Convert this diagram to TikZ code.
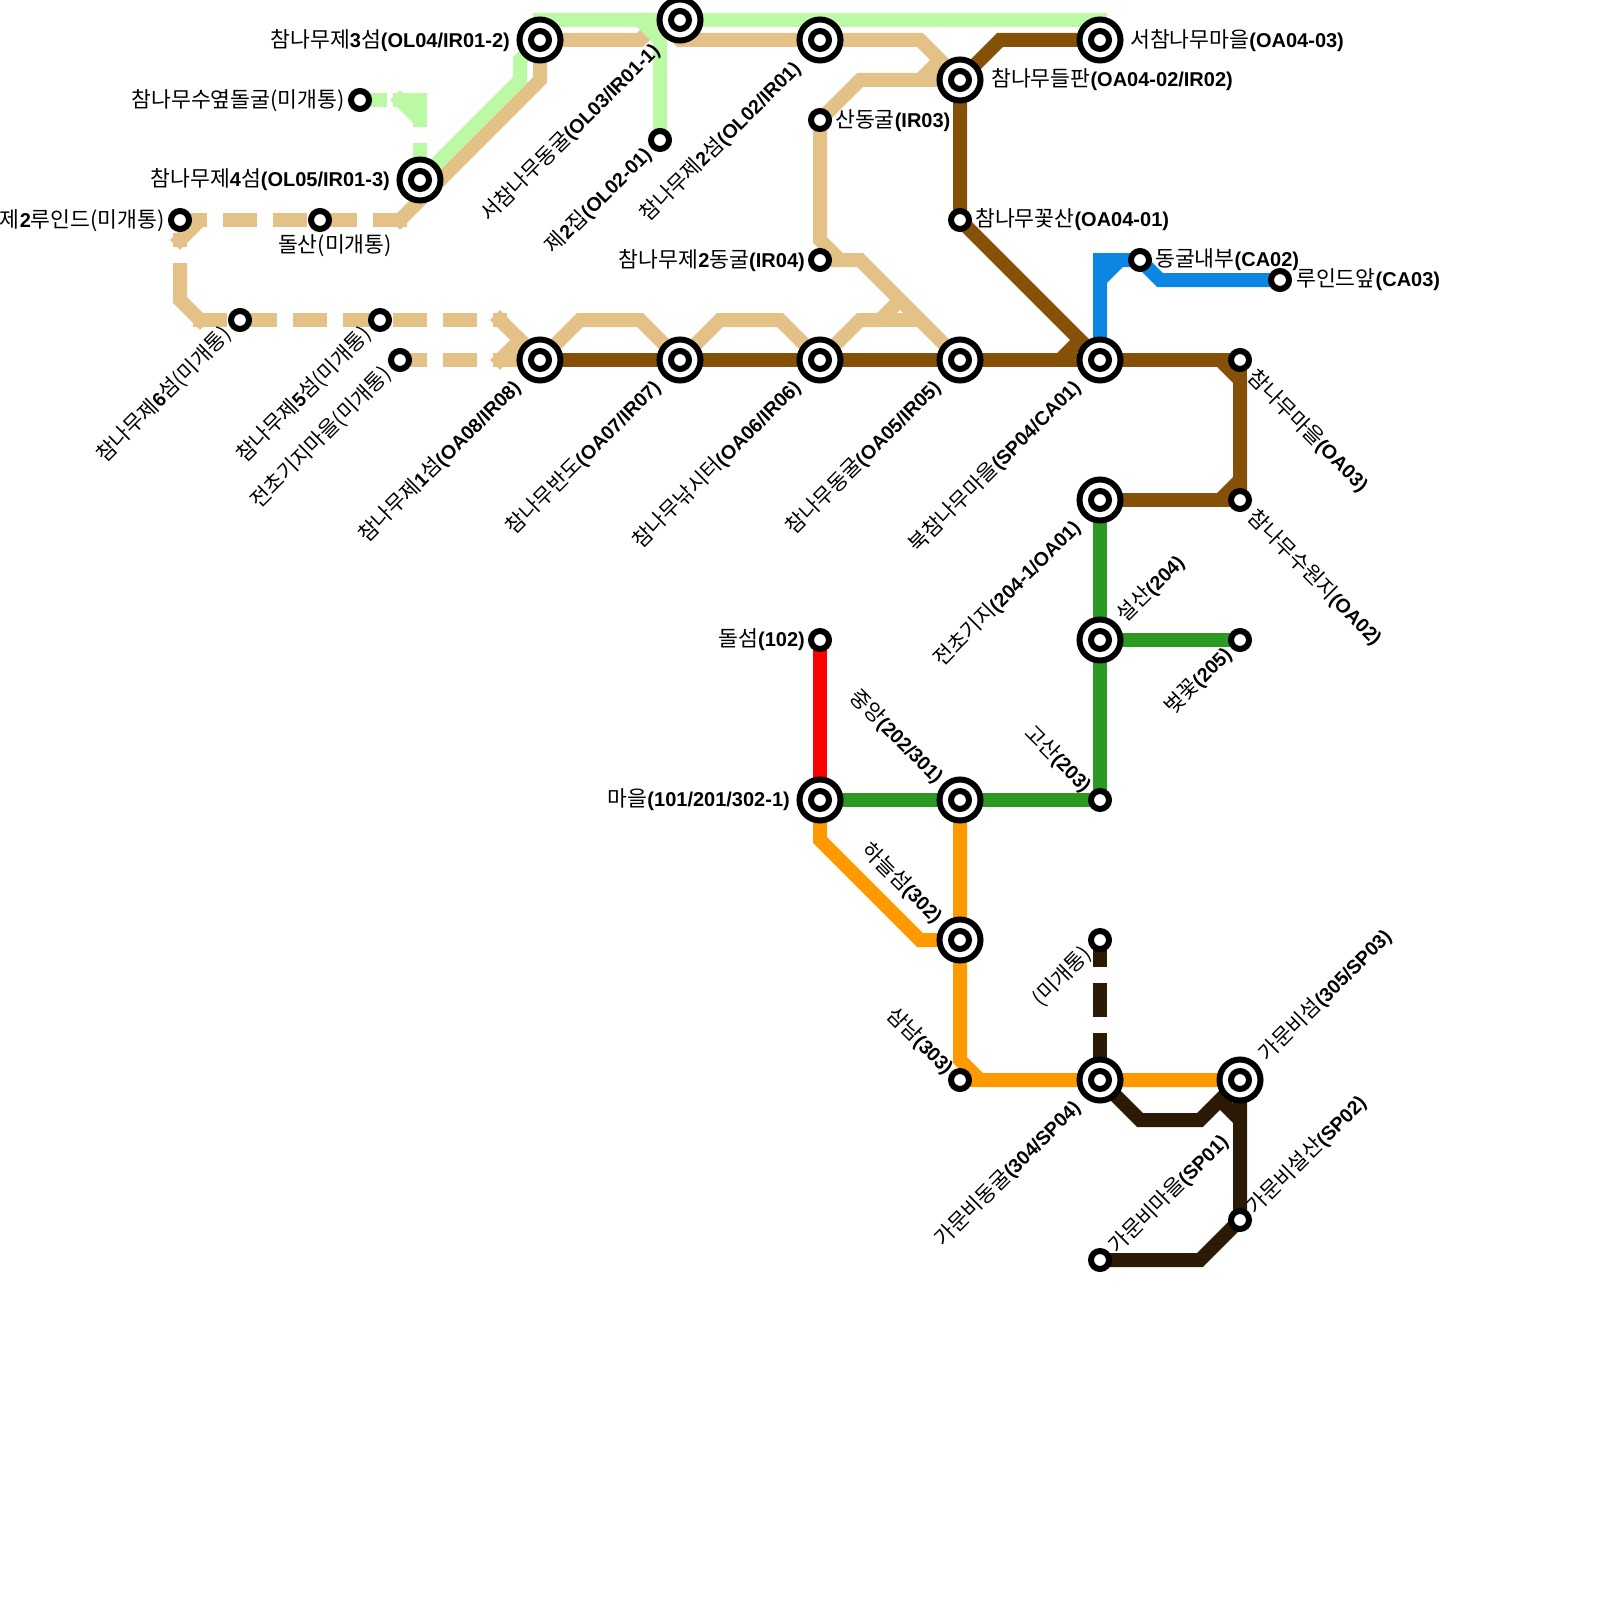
\documentclass[tikz,border=0pt]{standalone}
\usepackage{fontspec}
\setmainfont[Scale=1.08]{Noto Sans CJK KR}
\newfontfamily\codefont{Liberation Sans Bold}
\usetikzlibrary{backgrounds}
\newcommand{\cd}[1]{{\codefont #1}}
\definecolor{lineLime}{HTML}{BBF9A5}
\definecolor{lineTan}{HTML}{E3C187}
\definecolor{lineBrown}{HTML}{855007}
\definecolor{lineBlue}{HTML}{0C85E3}
\definecolor{lineGreen}{HTML}{2A9A22}
\definecolor{lineOrange}{HTML}{FF9900}
\definecolor{lineDark}{HTML}{2C1A05}

\begin{document}
\begin{tikzpicture}[
  x=1pt, y=-1pt,
  font=\fontsize{20}{24}\selectfont,
  stn/.style={circle, draw=black, fill=white, line width=6pt, inner sep=0pt, minimum size=18pt, outer sep=0pt},
  hub/.style={circle, draw=black, fill=white, line width=6pt, inner sep=0pt, minimum size=41pt, outer sep=0pt,
              label={[stn]center:{}}},
  rail/.style={line width=14pt, miter limit=10},
  capped/.style={rail, line cap=rect},
  dashrail/.style={capped, dash pattern=on 20pt off 30pt},
  slant/.style={font=\fontsize{19.5}{24}\selectfont, inner sep=0pt},
  upend/.style={slant, rotate=45, anchor=east},
  upstart/.style={slant, rotate=45, anchor=west},
  downend/.style={slant, rotate=-45, anchor=east},
  downstart/.style={slant, rotate=-45, anchor=west},
  txtl/.style={anchor=east, inner sep=0pt},
  txtr/.style={anchor=west, inner sep=0pt}
]
\useasboundingbox (0,0) rectangle (1600,1600);

% interchanges
\node[hub] (seom3) at (540,40) {};
\node[hub] (seodong) at (680,20) {};
\node[hub] (seom2) at (820,40) {};
\node[hub] (deulpan) at (960,80) {};
\node[hub] (seomaeul) at (1100,40) {};
\node[hub] (seom4) at (420,180) {};
\node[hub] (seom1) at (540,360) {};
\node[hub] (bando) at (680,360) {};
\node[hub] (naksi) at (820,360) {};
\node[hub] (donggul) at (960,360) {};
\node[hub] (buk) at (1100,360) {};
\node[hub] (jeonchogi) at (1100,500) {};
\node[hub] (seolsan) at (1100,640) {};
\node[hub] (maeul) at (820,800) {};
\node[hub] (jungang) at (960,800) {};
\node[hub] (haneul) at (960,940) {};
\node[hub] (gamun) at (1100,1080) {};
\node[hub] (gamunseom) at (1240,1080) {};

% plain stops
\node[stn] (suyeop) at (360,100) {};
\node[stn] (jip2) at (660,140) {};
\node[stn] (sandong) at (820,120) {};
\node[stn] (dong2) at (820,260) {};
\node[stn] (kkotsan) at (960,220) {};
\node[stn] (naebu) at (1140,260) {};
\node[stn] (ruin) at (1280,280) {};
\node[stn] (chamaeul) at (1240,360) {};
\node[stn] (suwon) at (1240,500) {};
\node[stn] (ruin2) at (180,220) {};
\node[stn] (dolsan) at (320,220) {};
\node[stn] (seom6) at (240,320) {};
\node[stn] (seom5) at (380,320) {};
\node[stn] (gichi) at (400,360) {};
\node[stn] (beot) at (1240,640) {};
\node[stn] (dolseom) at (820,640) {};
\node[stn] (gosan) at (1100,800) {};
\node[stn] (samnam) at (960,1080) {};
\node[stn] (migae) at (1100,940) {};
\node[stn] (gaseol) at (1240,1220) {};
\node[stn] (gamaeul) at (1100,1260) {};

% free ends of the dashed parts
\coordinate (tanA) at (400,220);
\coordinate (tanB) at (200,320);
\coordinate (tanC) at (470,320);
\coordinate (tanD) at (500,320);
\coordinate (tanE) at (500,360);
\coordinate (tanF) at (470,360);
\coordinate (tanG) at (180,270);
\coordinate (tanH) at (180,240);
\coordinate (tanI) at (200,220);
\coordinate (limeA) at (380,100);
\coordinate (limeB) at (400,100);
\coordinate (limeC) at (420,150);

\begin{scope}[on background layer]
% tan
\draw[rail, lineTan] (seom3.center) -- (540,80) -- (440,180) -- (seom4.center);
\draw[rail, lineTan] (seom3.center) -- (640,40) -- (660,20) -- (seodong.center);
\draw[rail, lineTan] (seodong.center) -- (660,20) -- (680,40) -- (seom2.center) -- (920,40) -- (deulpan.center);
\draw[rail, lineTan] (sandong.center) -- (860,80) -- (920,80) -- (940,60);
\draw[rail, lineTan] (920,80) -- (deulpan.center);
\draw[rail, lineTan] (sandong.center) -- (820,240) -- (840,260);
\draw[rail, lineTan] (dong2.center) -- (860,260) -- (donggul.center);
\draw[rail, lineTan] (naksi.center) -- (860,320) -- (880,320) -- (900,300);
\draw[rail, lineTan] (880,320) -- (920,320);
\draw[rail, lineTan] (seom1.center) -- (580,320) -- (640,320) -- (bando.center);
\draw[rail, lineTan] (bando.center) -- (720,320) -- (780,320) -- (naksi.center);
\draw[dashrail, lineTan] (ruin2.center) -- (tanA);
\draw[capped, lineTan] (tanA) -- (420,200) -- (seom4.center);
\draw[rail, lineTan] (tanI) -- (tanH);
\draw[capped, lineTan] (190,230) -- (tanH);
\draw[capped, lineTan] (tanH) -- ++(0,0.1);
\draw[capped, lineTan] (tanG) -- (180,300) -- (tanB);
\draw[dashrail, lineTan] (tanB) -- (tanC);
\draw[capped, lineTan] (tanD) -- (seom1.center);
\draw[capped, lineTan] (tanD) -- ++(0.1,0);
\draw[dashrail, lineTan] (gichi.center) -- (tanF);
\draw[capped, lineTan] (tanE) -- (seom1.center);
\draw[capped, lineTan] (tanE) -- (520,340);
% lime
\draw[rail, lineLime] (seom4.center) -- (520,80) -- (520,60) -- (seom3.center) -- (540,20) -- (640,20) -- (660,40) -- (jip2.center);
\draw[rail, lineLime] (seodong.center) -- (640,20);
\draw[rail, lineLime] (seodong.center) -- (1100,20) -- (seomaeul.center);
\draw[dashrail, lineLime] (suyeop.center) -- (limeA);
\draw[capped, lineLime] (limeB) -- (420,100) -- (420,120);
\draw[capped, lineLime] (limeB) -- (415,115);
\draw[capped, lineLime] (limeC) -- (seom4.center);
% brown
\draw[rail, lineBrown] (seom1.center) -- (buk.center) -- (chamaeul.center);
\draw[rail, lineBrown] (1220,360) -- (1240,380) -- (suwon.center);
\draw[rail, lineBrown] (chamaeul.center) -- (1240,380);
\draw[rail, lineBrown] (jeonchogi.center) -- (suwon.center);
\draw[rail, lineBrown] (1220,500) -- (1240,480);
\draw[rail, lineBrown] (seomaeul.center) -- (1000,40) -- (deulpan.center) -- (kkotsan.center) -- (buk.center);
\draw[rail, lineBrown] (1060,360) -- (1080,340);
% blue
\draw[rail, lineBlue] (buk.center) -- (1100,260) -- (naebu.center) -- (1160,280) -- (ruin.center);
\draw[rail, lineBlue] (1100,280) -- (1120,260);
% green
\draw[rail, lineGreen] (maeul.center) -- (gosan.center) -- (jeonchogi.center);
\draw[rail, lineGreen] (seolsan.center) -- (beot.center);
% red
\draw[rail, red] (dolseom.center) -- (maeul.center);
% orange
\draw[rail, lineOrange] (maeul.center) -- (820,840) -- (920,940) -- (haneul.center);
\draw[rail, lineOrange] (jungang.center) -- (haneul.center) -- (960,1060) -- (980,1080) -- (gamunseom.center);
\draw[rail, lineOrange] (samnam.center) -- (980,1080);
% dark
\draw[dashrail, lineDark] (migae.center) -- (gamun.center);
\draw[rail, lineDark] (gamun.center) -- (1140,1120) -- (1200,1120) -- (gamunseom.center) -- (gaseol.center) -- (1200,1260) -- (gamaeul.center);
\draw[rail, lineDark] (1220,1100) -- (1240,1120);
\end{scope}

% labels
\node[txtl] (t01) at (510,41) {참나무제\cd{3}섬\cd{(OL04/IR01-2)}};
\node[txtl] (t02) at (345,101) {참나무수옆돌굴(미개통)};
\node[txtl] (t03) at (390,180) {참나무제\cd{4}섬\cd{(OL05/IR01-3)}};
\node[txtl] (t04) at (165,221) {제\cd{2}루인드(미개통)};
\node[txtl] (t05) at (805,261) {참나무제\cd{2}동굴\cd{(IR04)}};
\node[txtl] (t06) at (805,640) {돌섬\cd{(102)}};
\node[txtl] (t07) at (790,800) {마을\cd{(101/201/302-1)}};
\node[txtr] (t08) at (1130,41) {서참나무마을\cd{(OA04-03)}};
\node[txtr] (t09) at (991,80) {참나무들판\cd{(OA04-02/IR02)}};
\node[txtr] (t10) at (835,121) {산동굴\cd{(IR03)}};
\node[txtr] (t11) at (975,220) {참나무꽃산\cd{(OA04-01)}};
\node[txtr] (t12) at (1155,260) {동굴내부\cd{(CA02)}};
\node[txtr] (t13) at (1296,280) {루인드앞\cd{(CA03)}};
\node[inner sep=0pt] (t14) at (335,246) {돌산(미개통)};

\node[upend] (t20) at (656,47) {서참나무동굴\cd{(OL03/IR01-1)}};
\node[upend] (t21) at (648,151) {제\cd{2}집\cd{(OL02-01)}};
\node[upend] (t22) at (797,65) {참나무제\cd{2}섬\cd{(OL02/IR01)}};
\node[upend] (t23) at (228,331) {참나무제\cd{6}섬(미개통)};
\node[upend] (t24) at (368,331) {참나무제\cd{5}섬(미개통)};
\node[upend] (t25) at (388,371) {전초기지마을(미개통)};
\node[upend] (t26) at (517,384) {참나무제\cd{1}섬\cd{(OA08/IR08)}};
\node[upend] (t27) at (657,384) {참나무반도\cd{(OA07/IR07)}};
\node[upend] (t28) at (797,384) {참나무낚시터\cd{(OA06/IR06)}};
\node[upend] (t29) at (937,384) {참나무동굴\cd{(OA05/IR05)}};
\node[upend] (t30) at (1077,384) {북참나무마을\cd{(SP04/CA01)}};
\node[upend] (t31) at (1077,524) {전초기지\cd{(204-1/OA01)}};
\node[upend] (t32) at (1228,651) {벚꽃\cd{(205)}};
\node[upend] (t33) at (1088,951) {(미개통)};
\node[upend] (t34) at (1077,1104) {가문비동굴\cd{(304/SP04)}};

\node[upstart] (t40) at (1121,619) {설산\cd{(204)}};
\node[upstart] (t41) at (1263,1058) {가문비섬\cd{(305/SP03)}};
\node[upstart] (t42) at (1113,1250) {가문비마을\cd{(SP01)}};
\node[upstart] (t43) at (1251,1211) {가문비설산\cd{(SP02)}};

\node[downstart] (t50) at (1251,374) {참나무마을\cd{(OA03)}};
\node[downstart] (t51) at (1251,514) {참나무수원지\cd{(OA02)}};
\node[downend] (t52) at (940,780) {중앙\cd{(202/301)}};
\node[downend] (t53) at (939,920) {하늘섬\cd{(302)}};
\node[downend] (t54) at (1088,789) {고산\cd{(203)}};
\node[downend] (t55) at (950,1071) {삼남\cd{(303)}};
\end{tikzpicture}
\end{document}
